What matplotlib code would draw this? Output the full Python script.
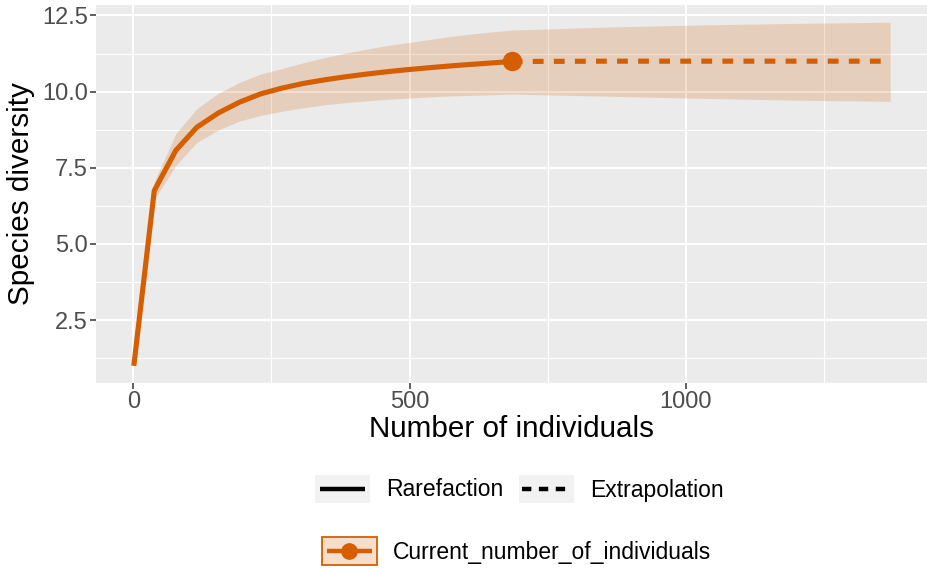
import matplotlib
matplotlib.use("Agg")
import matplotlib.pyplot as plt
from matplotlib.patches import Rectangle
from matplotlib.lines import Line2D

plt.rcParams['font.family'] = ['Liberation Sans', 'DejaVu Sans']

# ---- data ----
rare_m = [1, 38, 77, 115, 154, 193, 231, 270, 308, 347, 385, 424, 462, 501, 539, 578, 616, 655, 685]
rare_qd = [1.0, 6.75, 8.07, 8.83, 9.30, 9.66, 9.93, 10.12, 10.27, 10.39, 10.49, 10.58, 10.66, 10.73, 10.79, 10.85, 10.90, 10.95, 10.99]
rare_up = [1.0, 7.05, 8.62, 9.44, 9.95, 10.31, 10.58, 10.76, 10.95, 11.12, 11.27, 11.40, 11.52, 11.62, 11.72, 11.82, 11.90, 11.97, 12.02]
rare_lo = [1.0, 6.45, 7.58, 8.33, 8.74, 9.04, 9.22, 9.36, 9.47, 9.57, 9.64, 9.70, 9.75, 9.79, 9.83, 9.86, 9.88, 9.90, 9.92]

extra_m = [685, 856, 1027, 1199, 1370]
extra_qd = [10.99, 11.00, 11.00, 11.00, 11.00]
extra_up = [12.02, 12.12, 12.19, 12.24, 12.28]
extra_lo = [9.92, 9.85, 9.78, 9.72, 9.68]

obs_m = [685]
obs_qd = [10.99]

x_ticks = [0, 500, 1000]
x_minor = [250, 750, 1250]
y_ticks = [2.5, 5.0, 7.5, 10.0, 12.5]
y_tick_labels = ["2.5", "5.0", "7.5", "10.0", "12.5"]
y_minor = [1.25, 3.75, 6.25, 8.75, 11.25]

COL = "#D55E00"
PANEL = "#EBEBEB"

W, H = 928, 568
fig = plt.figure(figsize=(W / 100, H / 100), dpi=100)
ax = fig.add_axes([96 / W, 1 - 383 / H, (928 - 96) / W, (383 - 5) / H])
ax.set_facecolor(PANEL)
for s in ax.spines.values():
    s.set_visible(False)

# ribbon
ax.fill_between(rare_m, rare_lo, rare_up, color=COL, alpha=0.2, lw=0, zorder=2)
ax.fill_between(extra_m, extra_lo, extra_up, color=COL, alpha=0.2, lw=0, zorder=2)

# lines
ax.plot(rare_m, rare_qd, color=COL, lw=3.7, solid_capstyle='butt', solid_joinstyle='round', zorder=3)
ln, = ax.plot(extra_m, extra_qd, color=COL, lw=3.7, dash_capstyle='butt', zorder=3)
ln.set_dashes((2.1, 2.0))
ax.plot(obs_m, obs_qd, 'o', color=COL, ms=13, zorder=4)

# limits with ggplot-like 5% expansion
xr = extra_m[-1] - rare_m[0]
ax.set_xlim(rare_m[0] - 0.05 * xr, extra_m[-1] + 0.05 * xr)
yr = max(extra_up) - min(rare_lo)
ax.set_ylim(min(rare_lo) - 0.05 * yr, max(extra_up) + 0.05 * yr)

ax.set_xticks(x_ticks)
ax.set_xticks(x_minor, minor=True)
ax.set_yticks(y_ticks)
ax.set_yticklabels(y_tick_labels)
ax.set_yticks(y_minor, minor=True)
ax.grid(which='major', color='white', lw=1.5, zorder=0)
ax.grid(which='minor', color='white', lw=0.8, zorder=0)
ax.set_axisbelow(True)
ax.tick_params(which='major', length=4, width=1.1, color='#333333', labelsize=17,
               labelcolor='#4D4D4D', pad=2)
ax.tick_params(which='minor', length=0)

ax.set_xlabel("Number of individuals", fontsize=21.3, labelpad=1)
ax.set_ylabel("Species diversity", fontsize=21.3, labelpad=5)

# ---- legend (drawn manually in pixel coordinates) ----
def px(x, y):
    return (x / W, 1 - y / H)

def fbox(x0, y0, x1, y1, fc, ec='none', lw=0):
    fig.add_artist(Rectangle(px(x0, y1), (x1 - x0) / W, (y1 - y0) / H,
                             transform=fig.transFigure, fc=fc, ec=ec, lw=lw))

# row 1
fbox(315, 475, 370, 503, '#F2F2F2')
fig.add_artist(Line2D([320 / W, 365 / W], [1 - 489 / H] * 2, transform=fig.transFigure,
                      color='black', lw=3.2, solid_capstyle='butt'))
fig.text(386 / W, 1 - 490 / H, "Rarefaction", fontsize=16.5, va='center', ha='left')
fbox(519, 475, 574, 503, '#F2F2F2')
d = Line2D([522 / W, 571 / W], [1 - 489 / H] * 2, transform=fig.transFigure,
           color='black', lw=3.2, dash_capstyle='butt')
d.set_dashes((2.1, 1.7))
fig.add_artist(d)
fig.text(590 / W, 1 - 490 / H, "Extrapolation", fontsize=16.5, va='center', ha='left')

# row 2
fbox(322, 537, 377, 565, (0.835, 0.369, 0.0, 0.2), ec=COL, lw=1.3)
fig.add_artist(Line2D([327 / W, 372 / W], [1 - 551 / H] * 2, transform=fig.transFigure,
                      color=COL, lw=3.2, solid_capstyle='butt'))
fig.add_artist(Line2D([349.5 / W], [1 - 551 / H], transform=fig.transFigure,
                      marker='o', color=COL, ms=11, lw=0))
fig.text(393 / W, 1 - 552 / H, "Current_number_of_individuals", fontsize=16.5,
         va='center', ha='left')

fig.savefig("out.png", dpi=100)
